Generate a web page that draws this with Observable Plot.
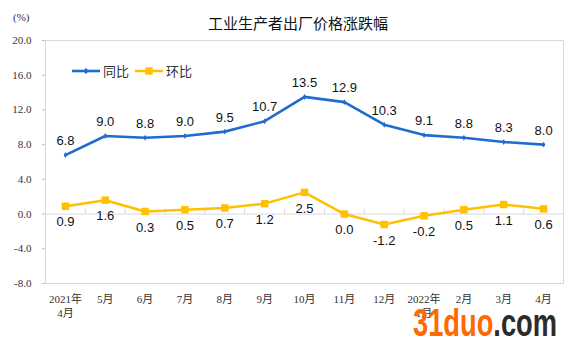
<!DOCTYPE html>
<html><head><meta charset="utf-8">
<script src="https://cdn.jsdelivr.net/npm/d3@7"></script>
<script src="https://cdn.jsdelivr.net/npm/@observablehq/plot@0.6"></script>
<style>
body{margin:0;background:#fff;}
#wrap{position:relative;width:576px;height:341px;overflow:hidden;}
.abs{position:absolute;white-space:nowrap;}
</style>
</head><body>
<div id="wrap"></div>
<script>
const categories = ["2021年\n4月","5月","6月","7月","8月","9月","10月","11月","12月","2022年\n1月","2月","3月","4月"];
const yoyValues = [6.8, 9.0, 8.8, 9.0, 9.5, 10.7, 13.5, 12.9, 10.3, 9.1, 8.8, 8.3, 8.0];
const momValues = [0.9, 1.6, 0.3, 0.5, 0.7, 1.2, 2.5, 0.0, -1.2, -0.2, 0.5, 1.1, 0.6];
const yTicks = [-8, -4, 0, 4, 8, 12, 16, 20];
const seriesNames = ["同比", "环比"];
const titleText = "工业生产者出厂价格涨跌幅";
const unitText = "(%)";

const blue = "#1f6bd0";
const yellow = "#ffc000";
const data = categories.map((c, i) => ({i, yoy: yoyValues[i], mom: momValues[i]}));
const bounds = d3.range(categories.length - 1).map(i => i + 0.5);
const serif = "'Liberation Serif','Noto Sans CJK SC',serif";
const sans = "'Liberation Sans',Arial,sans-serif";

const chart = Plot.plot({
  width: 576, height: 341,
  marginLeft: 45, marginRight: 13, marginTop: 40, marginBottom: 58,
  x: {type: "linear", domain: [-0.5, categories.length - 0.5], label: null},
  y: {domain: [-8, 20], label: null},
  marks: [
    Plot.frame({stroke: "#d9d9d9"}),
    Plot.ruleY([0], {stroke: "#d9d9d9"}),
    Plot.ruleX(bounds, {y1: 0, y2: 0, insetTop: -5, stroke: "#d9d9d9"}),
    Plot.ruleY(yTicks, {x1: -0.5, x2: -0.5, insetLeft: -3, stroke: "#bfbfbf"}),
    Plot.axisY({ticks: yTicks, tickFormat: d => d.toFixed(1), tickSize: 0, tickPadding: 14,
      fontSize: 11, fontFamily: serif, fill: "#333", label: null}),
    Plot.axisX({ticks: d3.range(categories.length), tickFormat: i => categories[i], tickSize: 0,
      tickPadding: 9, fontSize: 11, fontFamily: serif, fill: "#333", lineHeight: 1.3, label: null}),
    Plot.line(data, {x: "i", y: "mom", stroke: yellow, strokeWidth: 2.5}),
    Plot.dot(data, {x: "i", y: "mom", symbol: "square", r: 4.2, fill: yellow}),
    Plot.line(data, {x: "i", y: "yoy", stroke: blue, strokeWidth: 2.6}),
    Plot.dot(data, {x: "i", y: "yoy", symbol: "diamond", r: 1.8, fill: blue}),
    Plot.text(data, {x: "i", y: "yoy", text: d => d.yoy.toFixed(1), dy: -14, fontSize: 13, fontFamily: sans, fill: "#111"}),
    Plot.text(data, {x: "i", y: "mom", text: d => d.mom.toFixed(1), dy: 16, fontSize: 13, fontFamily: sans, fill: "#111"})
  ]
});
const wrap = document.getElementById("wrap");
wrap.appendChild(chart);

function addDiv(html, style) {
  const d = document.createElement("div");
  d.className = "abs";
  d.innerHTML = html;
  Object.assign(d.style, style);
  wrap.appendChild(d);
  return d;
}
addDiv(titleText, {left: "0px", width: "596px", textAlign: "center", top: "13px", fontSize: "15px",
  fontFamily: "'Noto Sans CJK SC',sans-serif", color: "#111", lineHeight: "20px"});
addDiv(unitText, {left: "13px", top: "10px", fontSize: "11px", fontFamily: serif, color: "#333", lineHeight: "14px"});

// legend
addDiv(
  `<svg width="28" height="10" style="vertical-align:middle"><line x1="0" x2="28" y1="5" y2="5" stroke="${blue}" stroke-width="2.6"/><path d="M14,1.7L16.5,5L14,8.3L11.5,5Z" fill="${blue}"/></svg>` +
  `<span style="margin:0 6px 0 3px;vertical-align:middle">${seriesNames[0]}</span>` +
  `<svg width="28" height="10" style="vertical-align:middle"><line x1="0" x2="28" y1="5" y2="5" stroke="${yellow}" stroke-width="2.5"/><rect x="10.3" y="1.3" width="7.4" height="7.4" fill="${yellow}"/></svg>` +
  `<span style="margin-left:3px;vertical-align:middle">${seriesNames[1]}</span>`,
  {left: "72px", top: "62px", fontSize: "13px", fontFamily: "'Noto Sans CJK SC',sans-serif", color: "#333", lineHeight: "16px"});

// watermark
addDiv(`<svg width="148" height="33" style="display:block"><text x="1" y="29" textLength="144" lengthAdjust="spacingAndGlyphs" font-size="39" font-weight="bold" font-family="'Liberation Sans',Arial,sans-serif"><tspan fill="#ff6a00">31duo</tspan><tspan fill="#2b2b2b">.com</tspan></text></svg>`,
  {left: "412px", top: "307px", lineHeight: "0"});
</script>
</body></html>
